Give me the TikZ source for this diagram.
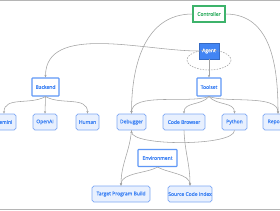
\documentclass[tikz,border=0pt]{standalone}
\usepackage{fontspec}
\setmainfont{Open Sans}
\newfontfamily\labelfont{Open Sans}[FakeBold=1.3]
\usetikzlibrary{arrows.meta, positioning, calc}
\definecolor{gblue}{HTML}{4285F4}
\definecolor{lblue}{HTML}{7FA8F5}
\definecolor{pale}{HTML}{E8F0FE}
\definecolor{ggreen}{HTML}{3DB36B}
\definecolor{edge}{HTML}{A3A3A3}
\definecolor{frame}{HTML}{B5B5B5}

\begin{document}
\begin{tikzpicture}[x=1pt, y=-1pt,
  font=\labelfont\fontsize{5}{6}\selectfont,
  >={Stealth[length=2.6pt, width=2.2pt]},
  leaf/.style={draw=lblue, fill=pale, text=gblue, line width=0.7pt, rounded corners=1.8pt,
    inner sep=0pt, minimum height=16pt},
  hub/.style={draw=gblue!85, fill=white, text=gblue, line width=1.1pt, rounded corners=0.6pt,
    inner sep=0pt, minimum height=18pt},
  agentbox/.style={draw=gblue!80!black, fill=gblue, text=white, line width=0.8pt,
    inner sep=0pt, minimum width=20pt, minimum height=16pt},
  ctrlbox/.style={draw=ggreen, fill=white, text=ggreen, line width=1.1pt,
    inner sep=0pt, minimum width=32pt, minimum height=16pt},
  link/.style={->, edge, line width=0.55pt}]

% Frame
\useasboundingbox (0,0) rectangle (280,210);
\clip (0,0) rectangle (280,210);
\fill[white] (0,0) rectangle (280,210);
\draw[frame, line width=1pt] (0,0.5) -- (280,0.5);
\draw[frame, line width=1.4pt] (0,209.3) -- (280,209.3);

% ========== Top: controller and agent ==========
\node[ctrlbox] (ctrl) at (209,14) {Controller};
\node[agentbox] (agent) at (209,51) {Agent};
\draw[edge, line width=0.55pt, dash pattern=on 1.6pt off 1.2pt]
  ([yshift=-9pt]agent.center) ellipse [x radius=22, y radius=10];

% ========== Middle: backend and toolset ==========
\node[hub, minimum width=27pt] (backend) at (45.5,87) {Backend};
\node[hub, minimum width=24pt] (toolset) at (209,87) {Toolset};

% ========== Leaves ==========
\node[leaf, minimum width=24pt] (gemini) at (4,122) {Gemini};
\node[leaf, minimum width=24pt] (openai) at (45,122) {OpenAI};
\node[leaf, minimum width=23pt] (human) at (87.5,122) {Human};
\node[leaf, minimum width=29pt] (debugger) at (131.5,122) {Debugger};
\node[leaf, minimum width=42pt] (browser) at (184,122) {Code Browser};
\node[leaf, minimum width=25pt] (python) at (234.5,122) {Python};
\node[leaf, minimum width=30pt] (reporter) at (278,122) {Reporter};

% ========== Bottom: environment ==========
\node[hub, minimum width=39pt, minimum height=17pt] (env) at (157.5,158) {Environment};
\node[leaf, minimum width=58pt] (build) at (121,194) {Target Program Build};
\node[leaf, minimum width=44pt] (index) at (190,194) {Source Code Index};

% ========== Connectors ==========
\draw[link] (ctrl.west) to[out=180, in=90, looseness=1.05] (debugger.north);
\draw[link] (ctrl.east) to[out=0, in=90, looseness=1.05] (reporter.north);
\draw[link] (agent.west) to[out=180, in=90, looseness=0.9] (backend.north);
\draw[link] (agent.south) -- (toolset.north);

\draw[link] (backend.south) to[out=-150, in=90] (gemini.north);
\draw[link] (backend.south) -- (openai.north);
\draw[link] (backend.south) to[out=-30, in=90] (human.north);

\draw[link] (toolset.south) to[out=-160, in=90, looseness=0.7] (debugger.north);
\draw[link] (toolset.south) to[out=-130, in=90] (browser.north);
\draw[link] (toolset.south) to[out=-50, in=90] (python.north);
\draw[link] (toolset.south) to[out=-20, in=90, looseness=0.7] (reporter.north);

\draw[link] (python.south) to[out=-90, in=-90, looseness=0.4] (debugger.south);
\draw[link] (debugger.south) to[out=-95, in=90] (build.north);
\draw[link] (browser.south) to[out=-88, in=90] (index.north);

\draw[link] (env.south) to[out=-150, in=90, looseness=0.8] (build.north);
\draw[link] (env.south) to[out=-30, in=90, looseness=0.8] (index.north);

\end{tikzpicture}
\end{document}
